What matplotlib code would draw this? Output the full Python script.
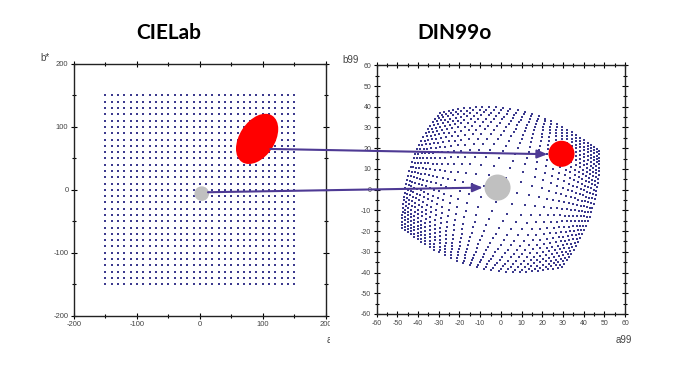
import numpy as np
import matplotlib
matplotlib.use("Agg")
import matplotlib.pyplot as plt
from matplotlib.patches import Ellipse, Circle, Rectangle, ConnectionPatch

plt.rcParams["axes.unicode_minus"] = False

# ---- data ----
grid_a = [-150, -140, -130, -120, -110, -100, -90, -80, -70, -60, -50, -40, -30, -20, -10,
          0, 10, 20, 30, 40, 50, 60, 70, 80, 90, 100, 110, 120, 130, 140, 150]
grid_b = [-150, -140, -130, -120, -110, -100, -90, -80, -70, -60, -50, -40, -30, -20, -10,
          0, 10, 20, 30, 40, 50, 60, 70, 80, 90, 100, 110, 120, 130, 140, 150]

left_ticks = [-200, -100, 0, 100, 200]
right_ticks = [-60, -50, -40, -30, -20, -10, 0, 10, 20, 30, 40, 50, 60]

# highlighted colours (left: a*, b*; right: a99, b99)
red_lab = [91, 81]          # centre of red ellipse
red_lab_size = [88, 56, 57] # width, height, angle
gray_lab = [3, -6]
gray_lab_r = 11.6
red_din = [29.3, 17.3]
gray_din = [-1.6, 1.0]
din_r = 6.3

# arrows: start in CIELab axes, end in DIN99 axes
arrow_red_start = [112, 65]
arrow_red_end = [22.5, 17.1]
arrow_gray_start = [13, -3.8]
arrow_gray_end = [-8.7, 1.0]

titles = ["CIELab", "DIN99o"]

# ---- DIN99 transform of the grid ----
A, B = np.meshgrid(np.array(grid_a, float), np.array(grid_b, float))
ang = np.deg2rad(16.0)
e = A * np.cos(ang) + B * np.sin(ang)
f = 0.7 * (-A * np.sin(ang) + B * np.cos(ang))
G = np.hypot(e, f)
C99 = np.log(1 + 0.045 * G) / 0.045
h = np.arctan2(f, e)
a99 = C99 * np.cos(h)
b99 = C99 * np.sin(h)

dot_color = "#3c3a8e"
arrow_color = "#4e3a94"
tick_color = "#444444"

fig = plt.figure(figsize=(6.9, 3.73), dpi=100)

axL = fig.add_axes([74 / 690, 1 - 315.7 / 373, 251.7 / 690, 251.7 / 373])
axL.scatter(A.ravel(), B.ravel(), s=1.6, marker="s", color=dot_color, linewidths=0, zorder=2)
axL.add_patch(Ellipse(red_lab, red_lab_size[0], red_lab_size[1], angle=red_lab_size[2],
                      color="#ff0000", zorder=3, lw=0))
axL.add_patch(Ellipse(gray_lab, 2 * gray_lab_r, 2 * gray_lab_r, color="#c0c0c0", zorder=3, lw=0))
axL.set_xlim(-200, 200)
axL.set_ylim(-200, 200)
axL.set_xticks(left_ticks)
axL.set_yticks(left_ticks)
axL.set_xticks([-150, -50, 50, 150], minor=True)
axL.set_yticks([-150, -50, 50, 150], minor=True)
axL.tick_params(which="both", direction="inout", top=True, right=True, labelsize=5.5,
                labelcolor=tick_color, width=0.8, pad=1.5)
axL.tick_params(which="major", length=5)
axL.tick_params(which="minor", length=3)
for sp in axL.spines.values():
    sp.set_linewidth(1.0)
    sp.set_color("#222222")
fig.text(40 / 690, 1 - 58 / 373, "b*", fontsize=7, color=tick_color, family="Liberation Sans",
         ha="left", va="center")
fig.text(327 / 690, 1 - 340 / 373, "a*", fontsize=7, color=tick_color, family="Liberation Sans",
         ha="left", va="center", zorder=1)
for lbl in axL.get_xticklabels() + axL.get_yticklabels():
    lbl.set_family("Liberation Sans")

# white cover for the second picture
cover = Rectangle((329.5 / 690, 0), 1 - 329.5 / 690, 1 - 48 / 373, transform=fig.transFigure,
                  facecolor="white", edgecolor="none", zorder=5)
fig.patches.append(cover)

axR = fig.add_axes([376.7 / 690, 1 - 314 / 373, 248.3 / 690, 248.7 / 373])
axR.set_zorder(6)
axR.scatter(a99.ravel(), b99.ravel(), s=1.6, marker="s", color=dot_color, linewidths=0, zorder=2)
axR.add_patch(Circle(red_din, din_r, color="#ff0000", zorder=3, lw=0))
axR.add_patch(Circle(gray_din, din_r, color="#c0c0c0", zorder=3, lw=0))
axR.set_xlim(-60, 60)
axR.set_ylim(-60, 60)
axR.set_xticks(right_ticks)
axR.set_yticks(right_ticks)
minor_r = [-55, -45, -35, -25, -15, -5, 5, 15, 25, 35, 45, 55]
axR.set_xticks(minor_r, minor=True)
axR.set_yticks(minor_r, minor=True)
axR.tick_params(which="both", direction="inout", top=True, right=True, labelsize=5,
                labelcolor=tick_color, width=0.8, pad=1.5)
axR.tick_params(which="major", length=5)
axR.tick_params(which="minor", length=3)
for sp in axR.spines.values():
    sp.set_linewidth(1.0)
    sp.set_color("#222222")
for lbl in axR.get_xticklabels() + axR.get_yticklabels():
    lbl.set_family("Liberation Sans")
fig.text(342 / 690, 1 - 60 / 373, "b99", fontsize=7, color=tick_color, family="Liberation Sans",
         ha="left", va="center", zorder=8)
fig.text(616 / 690, 1 - 340 / 373, "a99", fontsize=7, color=tick_color, family="Liberation Sans",
         ha="left", va="center", zorder=8)

# titles
fig.text(169 / 690, 1 - 33 / 373, titles[0], fontsize=15, fontweight="bold", family="Lato",
         ha="center", va="center", zorder=8)
fig.text(455 / 690, 1 - 33 / 373, titles[1], fontsize=15, fontweight="bold", family="Lato",
         ha="center", va="center", zorder=8)

# arrows across the two panels
for s, t in [(arrow_red_start, arrow_red_end), (arrow_gray_start, arrow_gray_end)]:
    con = ConnectionPatch(xyA=s, coordsA=axL.transData, xyB=t, coordsB=axR.transData,
                          arrowstyle="-|>,head_length=0.6,head_width=0.25", color=arrow_color,
                          lw=1.5, mutation_scale=10, shrinkA=0, shrinkB=0, zorder=10)
    fig.add_artist(con)
    con.set_zorder(10)

fig.savefig("out.png", dpi=100, facecolor="white")
